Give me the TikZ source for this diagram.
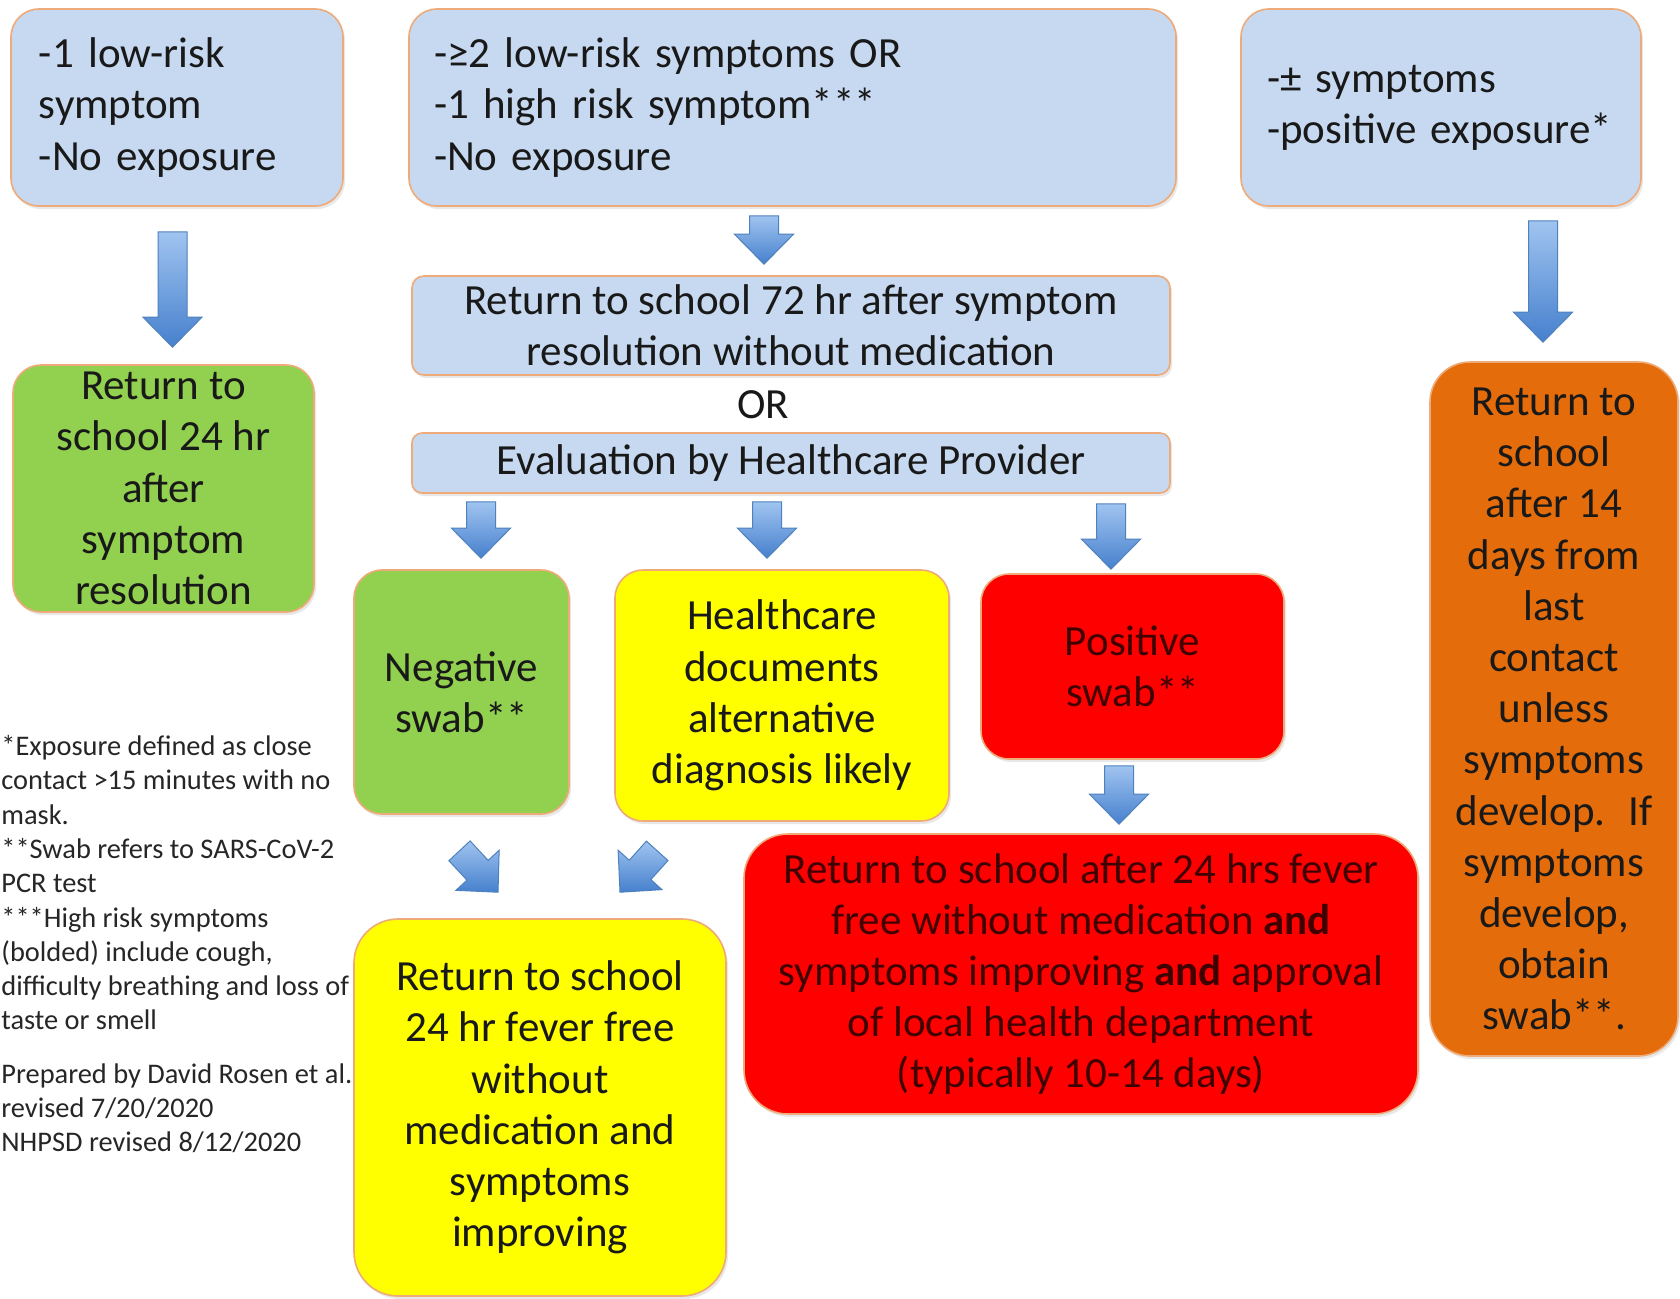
\documentclass[tikz,border=0pt]{standalone}
\usepackage{fontspec}
\setmainfont{Carlito}
\usetikzlibrary{calc,shadows}
\definecolor{boxblue}{RGB}{198,217,240}
\definecolor{boxedge}{RGB}{238,170,120}
\definecolor{okgreen}{RGB}{146,208,80}
\definecolor{warnyellow}{RGB}{255,255,0}
\definecolor{alertred}{RGB}{255,0,0}
\definecolor{quarorange}{RGB}{228,108,10}
\definecolor{redtext}{RGB}{64,0,0}
\definecolor{arrowtop}{RGB}{160,196,240}
\definecolor{arrowbot}{RGB}{70,128,205}
\definecolor{arrowedge}{RGB}{79,129,189}
\definecolor{notegray}{RGB}{38,38,38}
\tikzset{
  flowbox/.style   = {shape=rectangle, rounded corners=14pt,
                      draw=boxedge, line width=0.8pt,
                      inner sep=0pt, align=center, text=black!90,
                      font=\fontsize{21.5}{25.6}\selectfont,
                      drop shadow={opacity=0.18, shadow xshift=1pt,
                                   shadow yshift=-1.5pt}},
  query/.style     = {flowbox, fill=boxblue, align=left,
                      minimum height=98.5pt},
  stepbox/.style   = {flowbox, fill=boxblue, rounded corners=6pt},
  clear/.style     = {flowbox, fill=okgreen},
  caution/.style   = {flowbox, fill=warnyellow},
  isolate/.style   = {flowbox, fill=alertred, text=redtext},
  quarantine/.style= {flowbox, fill=quarorange},
  note/.style      = {inner sep=0pt, align=left, text=notegray,
                      font=\fontsize{14.2}{17.15}\selectfont},
  blockarrow/.style= {draw=arrowedge, line width=0.5pt,
                      top color=arrowtop, bottom color=arrowbot,
                      to path={
                        (\tikztostart) coordinate (bas)
                        (\tikztotarget) coordinate (bat)
                        ($(bas)!7.25pt!90:(bat)$)
                     -- ($(bat)!15pt!(bas)!7.25pt!-90:(bas)$)
                     -- ($(bat)!15pt!(bas)!14.75pt!-90:(bas)$)
                     -- (bat)
                     -- ($(bat)!15pt!(bas)!14.75pt!90:(bas)$)
                     -- ($(bat)!15pt!(bas)!7.25pt!90:(bas)$)
                     -- ($(bas)!7.25pt!-90:(bat)$) -- cycle}}
}

\begin{document}
\begin{tikzpicture}[x=0.5pt, y=-0.5pt]
  \path[use as bounding box, fill=white] (0,0) rectangle (1680,1298);

  \node[query, text width=138pt, inner xsep=14pt] (lowrisk) at (177,107.5)
    {-1 low-risk\\symptom\\-No exposure};
  \node[query, text width=358.5pt, inner xsep=12.5pt] (highrisk) at (792.5,107.5)
    {-≥2 low-risk symptoms OR\\-1 high risk symptom***\\-No exposure};
  \node[query, text width=174pt, inner xsep=13pt] (exposed) at (1441,107.5)
    {-± symptoms\\-positive exposure*};

  \node[clear, minimum width=150.5pt, minimum height=123.5pt] (rtsgreen) at (163.5,488.5)
    {Return to\\school 24 hr\\after\\symptom\\resolution};
  \node[stepbox, minimum width=379pt, minimum height=49.5pt] (wait72) at (791,325.5)
    {Return to school 72 hr after symptom\\resolution without medication};
  \node[font=\fontsize{21.5}{25.6}\selectfont, text=black!90] (ortext) at (763,405) {OR};
  \node[stepbox, rounded corners=5pt, minimum width=379pt, minimum height=30pt] (evalhcp) at (791,463)
    {Evaluation by Healthcare Provider};

  \node[clear, minimum width=107.5pt, minimum height=122pt] (negswab) at (461.5,692)
    {Negative\\swab**};
  \node[caution, minimum width=167pt, minimum height=125.5pt] (altdiag) at (782,695.5)
    {Healthcare\\documents\\alternative\\diagnosis likely};
  \node[isolate, minimum width=151.5pt, minimum height=92.5pt] (posswab) at (1132.5,666.5)
    {Positive\\swab**};

  \node[isolate, rounded corners=22pt, minimum width=337pt, minimum height=140pt] (posreturn) at (1081,974)
    {Return to school after 24 hrs fever\\free without medication \textbf{and}\\symptoms improving \textbf{and} approval\\of local health department\\(typically 10-14 days)};
  \node[caution, rounded corners=22pt, minimum width=186pt, minimum height=188.5pt] (negreturn) at (540,1107.5)
    {Return to school\\24 hr fever free\\without\\medication and\\symptoms\\improving};
  \node[quarantine, rounded corners=20pt, minimum width=124pt, minimum height=347pt] (stayhome) at (1554,709)
    {Return to\\school\\after 14\\days from\\last\\contact\\unless\\symptoms\\develop.~ If\\symptoms\\develop,\\obtain\\swab**.};

  \node[note, anchor=north west] (notes) at (1,735)
    {*Exposure defined as close\\contact >15 minutes with no\\mask.\\**Swab refers to SARS-CoV-2\\PCR test\\***High risk symptoms\\(bolded) include cough,\\difficulty breathing and loss of\\taste or smell\\[9.5pt]Prepared by David Rosen et al.\\revised 7/20/2020\\NHPSD revised 8/12/2020};

  \draw[blockarrow] ($(lowrisk.south)+(-4.5,25)$) to ($(rtsgreen.north)+(9,-17)$);
  \draw[blockarrow] ($(highrisk.south)+(-28.5,9)$) to ($(wait72.north)+(-27,-11)$);
  \draw[blockarrow] ($(exposed.south)+(102,14)$) to ($(stayhome.north)+(-11,-19)$);
  \draw[blockarrow] ($(evalhcp.south -| negswab.north)+(19.5,8)$) to ($(negswab.north)+(19.5,-11)$);
  \draw[blockarrow] ($(evalhcp.south -| altdiag.north)+(-15,8)$) to ($(altdiag.north)+(-15,-11)$);
  \draw[blockarrow] ($(evalhcp.south -| posswab.north)+(-21.5,10)$) to ($(posswab.north)+(-21.5,-4)$);
  \draw[blockarrow] ($(posswab.south)+(-13.5,6)$) to ($(posswab.south |- posreturn.north)+(-13.5,-9)$);
  \draw[blockarrow] ($(negswab.south)+(-2,36)$) to ($(negreturn.north)+(-42,-26)$);
  \draw[blockarrow] ($(altdiag.south west)+(43,29)$) to ($(negreturn.north)+(80,-26)$);
\end{tikzpicture}
\end{document}
